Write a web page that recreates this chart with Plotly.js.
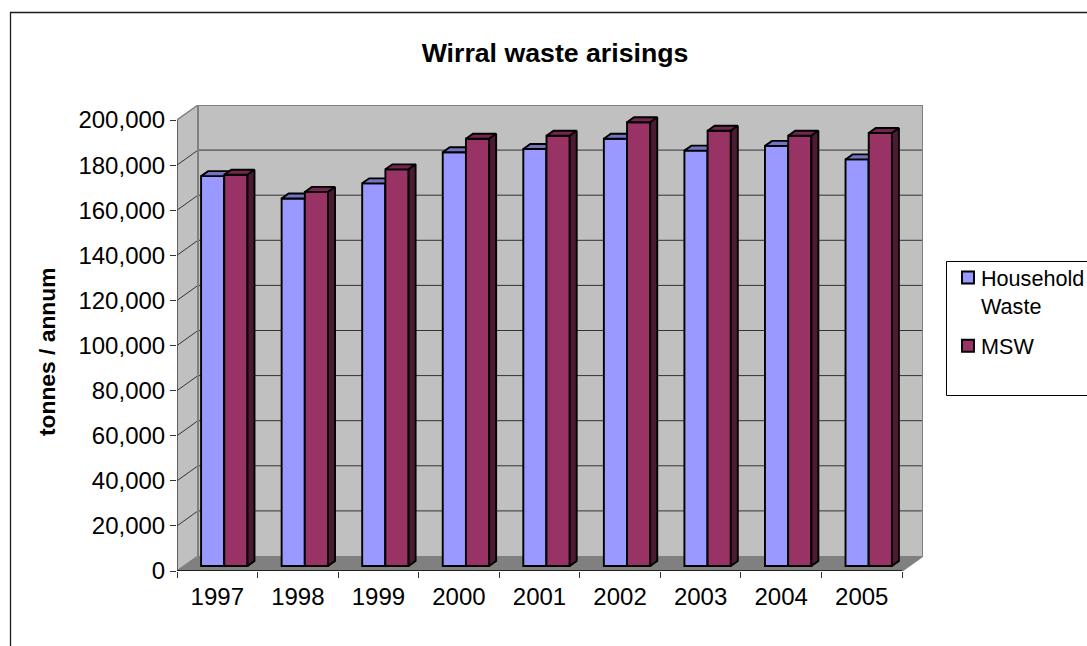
<!DOCTYPE html>
<html><head><meta charset="utf-8">
<script src="https://cdn.plot.ly/plotly-3.0.1.min.js"></script>
<style>html,body{margin:0;padding:0;background:#fff}#c{width:1087px;height:646px}</style>
</head><body><div id="c"></div>
<script>
const years = [1997,1998,1999,2000,2001,2002,2003,2004,2005];
const householdWaste = [172900,163000,169700,183500,184900,189500,184200,186300,180300];
const msw = [173500,165900,175900,189500,190800,196800,193000,190800,192000];
const yTicks = [0,20000,40000,60000,80000,100000,120000,140000,160000,180000,200000];

// Pixel frame of the pseudo-3D box
const L=177, R=923, T=105, B=571, depthPxX=21, depthPxY=15, W=1087, H=646;
const catPx=(R-L-depthPxX)/years.length, valPx=(B-T-depthPxY)/200000;
const wallDX=depthPxX/catPx, wallDY=depthPxY/valPx;
const xMin=years[0]-0.5, xFront=years[years.length-1]+0.5, xMax=xFront+wallDX;
const yTop=200000, yMax=yTop+wallDY;
const barDX=wallDX/3, barDY=wallDY/3, barW=0.288, edge=1.9;
const px=x=>(x-L)/(R-L), py=y=>(B-y)/(B-T);

const poly=(pts,fill,color,width)=>({type:'path',xref:'x',yref:'y',layer:'below',
  path:'M'+pts.map(p=>p.join(',')).join('L')+'Z',fillcolor:fill,line:{color:color||fill,width:width===undefined?0:width}});
const seg=(x0,y0,x1,y1,color,width)=>({type:'line',xref:'x',yref:'y',layer:'below',x0,y0,x1,y1,line:{color,width}});

const shapes=[
  poly([[xMin+wallDX,wallDY],[xMax,wallDY],[xMax,yMax],[xMin+wallDX,yMax]],'#C0C0C0'),
  poly([[xMin,0],[xMin+wallDX,wallDY],[xMin+wallDX,yMax],[xMin,yTop]],'#C0C0C0'),
  poly([[xMin,0],[xFront,0],[xMax,wallDY],[xMin+wallDX,wallDY]],'#808080')
];
yTicks.slice(1,-1).forEach(v=>{
  shapes.push(seg(xMin,v,xMin+wallDX,v+wallDY,'#333333',1));
  shapes.push(seg(xMin+wallDX,v+wallDY,xMax,v+wallDY,'#333333',1));
});
shapes.push(seg(xMin,yTop,xMin+wallDX,yMax,'#808080',1.5));
shapes.push(seg(xMin+wallDX,yMax,xMax,yMax,'#808080',2));
shapes.push(seg(xMax,yMax,xMax,wallDY,'#808080',2));
shapes.push(seg(xMin+wallDX,yMax,xMin+wallDX,wallDY,'#808080',2));
shapes.push(seg(xMin,0,xMin+wallDX,wallDY,'#808080',1.5));
shapes.push(seg(xFront,0,xMax,wallDY,'#808080',1.5));
shapes.push(seg(xMin,0,xMin,yTop,'#404040',1.5));
shapes.push(seg(xMin,0,xFront,0,'#000000',1.5));
// chart frame and legend box
shapes.push({type:'rect',xref:'paper',yref:'paper',layer:'below',x0:px(10.5),x1:px(W+20),y0:py(H+20),y1:py(12.5),fillcolor:'rgba(0,0,0,0)',line:{color:'#1a1a1a',width:1.3}});
shapes.push({type:'rect',xref:'paper',yref:'paper',layer:'below',x0:px(946.5),x1:px(W+20),y0:py(395.5),y1:py(261.5),fillcolor:'#ffffff',line:{color:'#000000',width:1}});

function faces(vals,offset,topColor,sideColor,xa,ya){
  const tx=[],ty=[],sx=[],sy=[];
  vals.forEach((v,i)=>{
    const x0=years[i]+barDX+offset, x1=x0+barW, y=v+barDY, b=barDY;
    tx.push(x0,x0+barDX,x1+barDX,x1,x0,null); ty.push(y,y+barDY,y+barDY,y,y,null);
    sx.push(x1,x1+barDX,x1+barDX,x1,x1,null); sy.push(b,b+barDY,y+barDY,y,b,null);
  });
  const mk=(x,y,c)=>({type:'scatter',mode:'lines',x,y,xaxis:xa,yaxis:ya,fill:'toself',fillcolor:c,
    line:{color:'#000000',width:edge},showlegend:false,hoverinfo:'skip'});
  return [mk(tx,ty,topColor),mk(sx,sy,sideColor)];
}
function bars(name,vals,offset,color,xa,ya){
  return {type:'bar',name,legendgroup:name,x:years.map(y=>y+barDX),y:vals,base:vals.map(()=>barDY),width:barW,offset,
    xaxis:xa,yaxis:ya,marker:{color,line:{color:'#000000',width:edge}}};
}
const data=[
  bars('Household<br>Waste',householdWaste,-barW,'#9999FF','x','y'),
  ...faces(householdWaste,-barW,'#7373BF','#7373BF','x','y'),
  bars('MSW',msw,0,'#993366','x2','y2'),
  ...faces(msw,0,'#732650','#4D1A33','x2','y2')
];
const layout={
  width:W,height:H,margin:{l:L,r:W-R,t:T,b:H-B,autoexpand:false},autosize:false,
  paper_bgcolor:'#ffffff',plot_bgcolor:'rgba(0,0,0,0)',
  font:{family:'"Liberation Sans",Arial,sans-serif',color:'#000000'},
  barmode:'overlay',showlegend:true,shapes,
  title:{text:'<b>Wirral waste arisings</b>',font:{size:26.7},x:555/W,xanchor:'center',y:1-53/H,yanchor:'middle'},
  legend:{x:px(941),y:py(257),xanchor:'left',yanchor:'top',bgcolor:'rgba(0,0,0,0)',borderwidth:0,font:{size:21.6},valign:'top',traceorder:'grouped',tracegroupgap:9},
  annotations:[{text:'<b>tonnes / annum</b>',xref:'paper',yref:'paper',x:px(47),y:py(352),xanchor:'center',yanchor:'middle',textangle:-90,showarrow:false,font:{size:22.8}}],
  xaxis:{range:[xMin,xMax],tickvals:years,ticktext:years.map(String),ticklen:0,showgrid:false,zeroline:false,showline:false,
    tickfont:{size:24},automargin:false,ticklabelstandoff:9,
    minor:{tickvals:[...years.map(y=>y-0.5),xFront],ticks:'outside',ticklen:6,tickcolor:'#333333',tickwidth:1,showgrid:false}},
  yaxis:{range:[0,yMax],tickvals:yTicks,tickformat:',d',ticks:'outside',ticklen:6,tickcolor:'#333333',showgrid:false,zeroline:false,showline:false,
    tickfont:{size:24},automargin:false},
  xaxis2:{range:[xMin,xMax],overlaying:'x',visible:false},
  yaxis2:{range:[0,yMax],overlaying:'y',visible:false}
};
Plotly.newPlot('c',data,layout,{displayModeBar:false,staticPlot:true}).then(()=>{
  // legend swatches sit closer to their labels in the reference
  document.querySelectorAll('#c .legend .layers').forEach(g=>{
    g.setAttribute('transform',(g.getAttribute('transform')||'')+' translate(7,0)');
  });
});
</script></body></html>
